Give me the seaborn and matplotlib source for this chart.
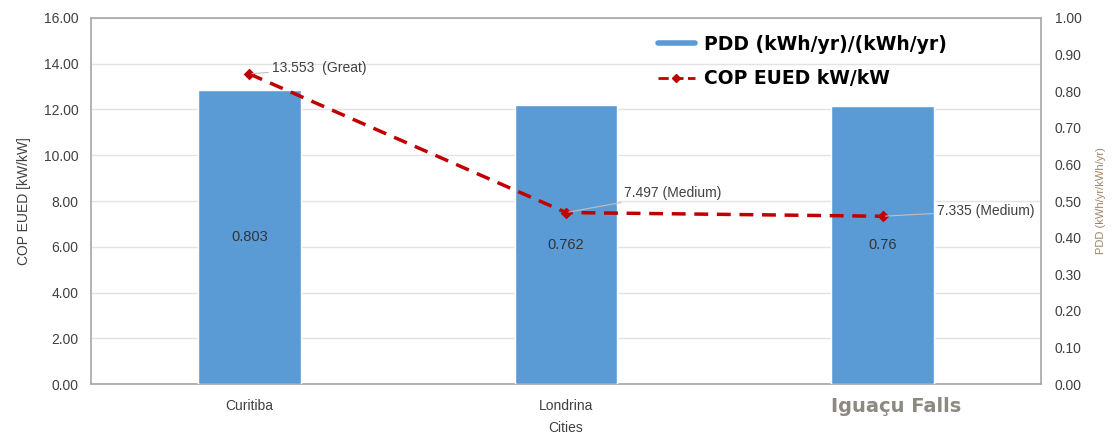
import numpy as np
import seaborn as sns
import matplotlib.pyplot as plt
from matplotlib.lines import Line2D
from matplotlib.transforms import ScaledTranslation

# Data
cities = ['Curitiba', 'Londrina', 'Iguaçu Falls']
pdd = [0.803, 0.762, 0.76]
cop = [13.553, 7.497, 7.335]
cop_labels = ['13.553  (Great)', '7.497 (Medium)', '7.335 (Medium)']
left_ticks = [0, 2, 4, 6, 8, 10, 12, 14, 16]
right_ticks = [0.0, 0.1, 0.2, 0.3, 0.4, 0.5, 0.6, 0.7, 0.8, 0.9, 1.0]

# annotation offsets (points) from each COP marker
label_offsets = [(16, 4), (42, 14), (39, 4)]

BAR_COLOR = '#5B9BD5'
LINE_COLOR = '#C00000'
TEXT_COLOR = '#404040'
SPINE_COLOR = '#A6A6A6'

sns.set_style('white')
plt.rcParams['font.family'] = ['Liberation Sans', 'DejaVu Sans']

fig = plt.figure(figsize=(11.17, 4.37), dpi=100)
ax1 = fig.add_axes([0.0815, 0.121, 0.8505, 0.838])

# Bars on the right axis (PDD)
ax_bar = ax1.twinx()
sns.barplot(x=cities, y=pdd, color=BAR_COLOR, saturation=1, width=0.325, ax=ax_bar)
ax_bar.bar_label(ax_bar.containers[0], labels=[str(v) for v in pdd], label_type='center',
                 fontsize=10.5, color='#333333')
ax_bar.set_ylim(0, 1)
ax_bar.set_yticks(right_ticks)
ax_bar.set_yticklabels([f'{t:.2f}' for t in right_ticks])
ax_bar.set_ylabel('PDD (kWh/yr/kWh/yr)', fontsize=8, color='#A08468', labelpad=10)

# Dashed COP line on its own twin so it sits above the bars
ax_line = ax1.twinx()
sns.pointplot(x=cities, y=cop, color=LINE_COLOR, markers='D', linestyles='--',
              markersize=4.5, linewidth=2.5, ax=ax_line)
for ln in ax_line.lines:
    ln.set_dashes([4, 2.5])
ax_line.set_ylim(0, 16)
ax_line.set_yticks([])
ax_line.set_ylabel('')
ax_line.set_xlabel('')

for i, (v, txt) in enumerate(zip(cop, cop_labels)):
    ax_line.annotate(txt, xy=(i, v), xytext=label_offsets[i], textcoords='offset points',
                     fontsize=10, color=TEXT_COLOR, ha='left', va='center',
                     arrowprops=dict(arrowstyle='-', color='#BFBFBF', lw=0.8,
                                     shrinkA=0, shrinkB=2))

# Left axis: COP scale + grid
ax1.set_ylim(0, 16)
ax1.set_yticks(left_ticks)
ax1.set_yticklabels([f'{t:.2f}' for t in left_ticks])
ax1.yaxis.grid(True, color='#E3E3E3', lw=1)
ax1.set_xlim(-0.5, 2.5)
ax1.set_xticks(range(len(cities)))
ax1.set_xticklabels(cities)
ax1.set_ylabel('COP EUED [kW/kW]', fontsize=10, color=TEXT_COLOR, labelpad=9)
ax1.set_xlabel('Cities', fontsize=10, color=TEXT_COLOR)
ax1.xaxis.set_label_coords(0.5, -0.1)

ax1.tick_params(axis='both', length=0, labelsize=10, labelcolor=TEXT_COLOR)
ax1.tick_params(axis='y', pad=9)
ax1.tick_params(axis='x', pad=11)
ax_bar.tick_params(axis='y', length=0, labelsize=10, labelcolor=TEXT_COLOR, pad=10)

lbl = ax1.get_xticklabels()[2]
lbl.set_fontfamily('DejaVu Sans')
lbl.set_fontsize(14)
lbl.set_fontweight('bold')
lbl.set_color('#8E8980')
lbl.set_transform(lbl.get_transform() + ScaledTranslation(0.13, 0.02, fig.dpi_scale_trans))

for ax in (ax_bar, ax_line):
    for s in ax.spines.values():
        s.set_visible(False)
for s in ax1.spines.values():
    s.set_visible(True)
    s.set_color(SPINE_COLOR)
    s.set_linewidth(1.2)

# Legend
handles = [Line2D([0], [0], color=BAR_COLOR, lw=4),
           Line2D([0], [0], color=LINE_COLOR, lw=2, ls='--', marker='D', markersize=4)]
labels = ['PDD (kWh/yr)/(kWh/yr)', 'COP EUED kW/kW']
leg = fig.legend(handles, labels, loc='upper left', bbox_to_anchor=(0.582, 0.938),
                 borderaxespad=0, frameon=False,
                 prop=dict(family='DejaVu Sans', weight='bold', size=13.5),
                 handlelength=2.0, labelspacing=0.84, handletextpad=0.5)
for t in leg.get_texts():
    t.set_color('black')

plt.savefig('out.png', dpi=100)
